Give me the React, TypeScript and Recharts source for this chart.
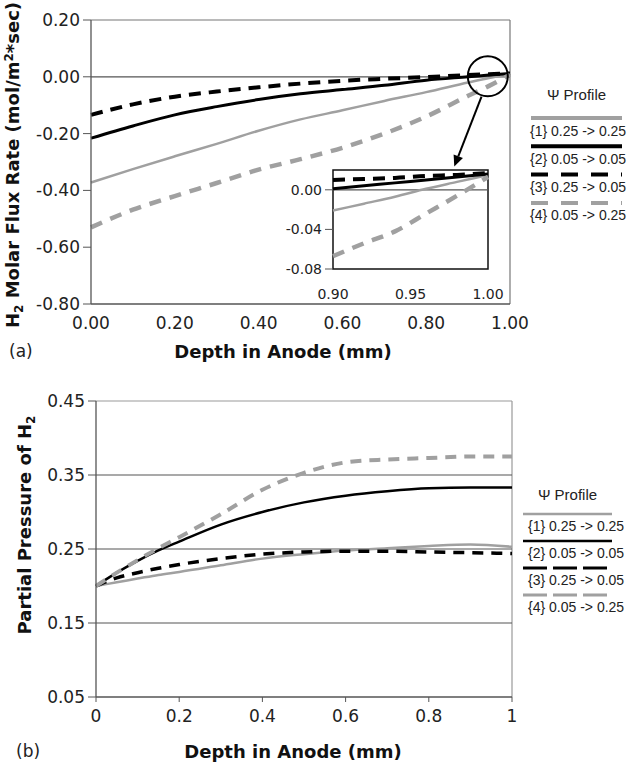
import React from 'react';
import { LineChart, Line, XAxis, YAxis, ReferenceLine, ReferenceDot, ReferenceArea, Legend } from 'recharts';

// ---- data ----
// (a) H2 molar flux rate vs depth
const depthFlux = [0, 0.1, 0.2, 0.3, 0.4, 0.5, 0.6, 0.7, 0.8, 0.9, 0.95, 1.0];
const flux1 = [-0.372, -0.325, -0.28, -0.236, -0.19, -0.15, -0.118, -0.085, -0.054, -0.02, -0.004, 0.01];
const flux2 = [-0.216, -0.173, -0.134, -0.105, -0.08, -0.06, -0.045, -0.03, -0.012, 0.0, 0.006, 0.012];
const flux3 = [-0.134, -0.097, -0.07, -0.052, -0.037, -0.024, -0.014, -0.007, -0.001, 0.006, 0.009, 0.012];
const flux4 = [-0.53, -0.468, -0.42, -0.374, -0.327, -0.29, -0.25, -0.2, -0.14, -0.067, -0.032, 0.008];

// inset: zoom on 0.90 - 1.00
const depthInset = [0.9, 0.92, 0.94, 0.96, 0.98, 1.0];
const inset1 = [-0.021, -0.014, -0.007, 0.001, 0.008, 0.015];
const inset2 = [0.001, 0.004, 0.007, 0.01, 0.013, 0.016];
const inset3 = [0.01, 0.011, 0.012, 0.014, 0.015, 0.017];
const inset4 = [-0.067, -0.054, -0.042, -0.024, -0.006, 0.013];

// (b) partial pressure of H2 vs depth
const depthPressure = [0, 0.05, 0.1, 0.15, 0.2, 0.3, 0.4, 0.5, 0.6, 0.7, 0.8, 0.9, 1.0];
const pressure1 = [0.2, 0.205, 0.21, 0.215, 0.219, 0.228, 0.237, 0.243, 0.248, 0.251, 0.254, 0.256, 0.253];
const pressure2 = [0.2, 0.218, 0.234, 0.248, 0.26, 0.283, 0.3, 0.313, 0.322, 0.328, 0.332, 0.333, 0.333];
const pressure3 = [0.2, 0.211, 0.218, 0.224, 0.229, 0.237, 0.243, 0.246, 0.247, 0.247, 0.246, 0.245, 0.244];
const pressure4 = [0.2, 0.218, 0.235, 0.251, 0.266, 0.297, 0.33, 0.353, 0.367, 0.371, 0.373, 0.375, 0.375];

const profileNames = ['{1} 0.25 -> 0.25', '{2} 0.05 -> 0.05', '{3} 0.25 -> 0.05', '{4} 0.05 -> 0.25'];

const fluxTicksX = [0, 0.2, 0.4, 0.6, 0.8, 1.0];
const fluxTicksY = [-0.8, -0.6, -0.4, -0.2, 0, 0.2];
const insetTicksX = [0.9, 0.95, 1.0];
const insetTicksY = [-0.08, -0.04, 0];
const pressureTicksX = [0, 0.2, 0.4, 0.6, 0.8, 1];
const pressureTicksY = [0.05, 0.15, 0.25, 0.35, 0.45];
const pressureGrid = [0.15, 0.25, 0.35];

// ---- build rows ----
const toRows = (xs: number[], a: number[], b: number[], c: number[], d: number[]) =>
  xs.map((x, i) => ({ depth: x, p1: a[i], p2: b[i], p3: c[i], p4: d[i] }));

const fluxData = toRows(depthFlux, flux1, flux2, flux3, flux4);
const insetData = toRows(depthInset, inset1, inset2, inset3, inset4);
const pressureData = toRows(depthPressure, pressure1, pressure2, pressure3, pressure4);

const GRAY = '#a0a0a0';
const AXIS = '#555';
const CHART_FONT = '"DejaVu Sans", sans-serif';
const LEGEND_FONT = '"Liberation Sans", Arial, sans-serif';

const keys = ['p1', 'p2', 'p3', 'p4'];
const colors = [GRAY, '#000', '#000', GRAY];
const topWidths = [2.5, 3, 4, 4.5];
const topDash = [undefined, undefined, '12 8', '12 9'];
const botWidths = [2.5, 2.5, 3.5, 4];
const botDash = [undefined, undefined, '11 8', '11 8'];

const tickStyle = { fill: '#222', fontSize: 17, fontFamily: CHART_FONT };
const titleStyle = { fill: '#111', fontSize: 18, fontWeight: 700, fontFamily: CHART_FONT };

// legend: line above each label
function ProfileLegend({ lineX1, lineX2, textX, titleY, firstLine, step, gap, widths, dash }: any) {
  return (
    <svg width={118} height={140} style={{ display: 'block', overflow: 'visible' }}>
      <text x={(lineX1 + lineX2) / 2} y={titleY} textAnchor="middle" fontSize={15} fontFamily={LEGEND_FONT} fill="#222">
        Ψ Profile
      </text>
      {profileNames.map((name, i) => {
        const ly = firstLine + i * step;
        return (
          <g key={name}>
            <line x1={lineX1} x2={lineX2} y1={ly} y2={ly} stroke={colors[i]} strokeWidth={widths[i]} strokeDasharray={dash[i]} />
            <text x={textX} y={ly + gap} fontSize={14} fontFamily={LEGEND_FONT} fill="#222">
              {name}
            </text>
          </g>
        );
      })}
    </svg>
  );
}

const Arrow = (props: any) => {
  const { x1, y1, x2, y2 } = props;
  const a = Math.atan2(y2 - y1, x2 - x1);
  const L = 11;
  const W = 5;
  const bx = x2 - L * Math.cos(a);
  const by = y2 - L * Math.sin(a);
  const pts = `${x2},${y2} ${bx + W * Math.sin(a)},${by - W * Math.cos(a)} ${bx - W * Math.sin(a)},${by + W * Math.cos(a)}`;
  return (
    <g>
      <line x1={x1} y1={y1} x2={bx} y2={by} stroke="#000" strokeWidth={2} />
      <polygon points={pts} fill="#000" />
    </g>
  );
};

function FluxChart() {
  return (
    <LineChart width={639} height={370} data={fluxData} margin={{ top: 20, right: 129, bottom: 40, left: 0 }}>
      <ReferenceLine y={0.2} stroke="#777" strokeWidth={1.2} />
      <ReferenceLine x={1} stroke="#777" strokeWidth={1.2} />
      <ReferenceLine y={0} stroke={AXIS} strokeWidth={1.3} />
      <XAxis
        dataKey="depth"
        type="number"
        domain={[0, 1]}
        ticks={fluxTicksX}
        tickFormatter={(v: number) => v.toFixed(2)}
        height={26}
        tickLine={false}
        tickSize={5}
        tickMargin={8}
        axisLine={{ stroke: AXIS, strokeWidth: 1.3 }}
        tick={tickStyle}
        label={{
          content: () => (
            <g>
              <text x={283} y={358} textAnchor="middle" {...titleStyle}>Depth in Anode (mm)</text>
              <text x={9} y={357} fontSize={17} fontFamily={CHART_FONT} fill="#222">(a)</text>
            </g>
          ),
        }}
      />
      <YAxis
        type="number"
        domain={[-0.8, 0.2]}
        ticks={fluxTicksY}
        tickFormatter={(v: number) => v.toFixed(2)}
        width={91}
        tickSize={8}
        tickMargin={3}
        axisLine={{ stroke: AXIS, strokeWidth: 1.3 }}
        tickLine={{ stroke: AXIS }}
        tick={tickStyle}
        label={{
          content: () => (
            <text transform="rotate(-90 19 165)" x={19} y={165} textAnchor="middle" {...titleStyle}>
              H<tspan dy={4} fontSize={12}>2</tspan>
              <tspan dy={-4}> Molar Flux Rate (mol/m</tspan>
              <tspan dy={-6} fontSize={12}>2</tspan>
              <tspan dy={6}>*sec)</tspan>
            </text>
          ),
        }}
      />
      {keys.map((k, i) => (
        <Line
          key={k}
          dataKey={k}
          name={profileNames[i]}
          type="monotone"
          stroke={colors[i]}
          strokeWidth={topWidths[i]}
          strokeDasharray={topDash[i]}
          dot={false}
          isAnimationActive={false}
        />
      ))}
      <ReferenceDot x={0.947} y={0.002} r={20} fill="none" stroke="#000" strokeWidth={2} />
      <ReferenceLine segment={[{ x: 0.932, y: -0.07 }, { x: 0.867, y: -0.316 }]} shape={Arrow} />
      <Legend
        layout="vertical"
        align="center"
        verticalAlign="middle"
        wrapperStyle={{ left: 523, top: 83, width: 118 }}
        content={() => (
          <ProfileLegend lineX1={8} lineX2={99} textX={7} titleY={17} firstLine={35} step={28.3} gap={17.5} widths={[4, 4, 4, 4]} dash={[undefined, undefined, '17 13', '17 13']} />
        )}
      />
    </LineChart>
  );
}

function InsetChart() {
  return (
    <LineChart width={240} height={145} data={insetData} margin={{ top: 10, right: 32, bottom: 6, left: 0 }}>
      <ReferenceArea x1={0.9} x2={1.0} y1={-0.08} y2={0.02} fill="#fff" fillOpacity={1} stroke="#111" strokeWidth={1.5} />
      <ReferenceLine y={0} stroke={AXIS} strokeWidth={1.2} />
      <XAxis
        dataKey="depth"
        type="number"
        domain={[0.9, 1.0]}
        ticks={insetTicksX}
        tickFormatter={(v: number) => v.toFixed(2)}
        height={30}
        tickLine={false}
        axisLine={false}
        tickSize={0}
        tickMargin={20}
        tick={{ ...tickStyle, fontSize: 14 }}
      />
      <YAxis
        type="number"
        domain={[-0.08, 0.02]}
        ticks={insetTicksY}
        tickFormatter={(v: number) => v.toFixed(2)}
        width={53}
        axisLine={false}
        tickSize={8}
        tickMargin={3}
        tickLine={{ stroke: AXIS }}
        tick={{ ...tickStyle, fontSize: 14 }}
      />
      {keys.map((k, i) => (
        <Line
          key={k}
          dataKey={k}
          type="monotone"
          stroke={colors[i]}
          strokeWidth={topWidths[i]}
          strokeDasharray={topDash[i]}
          dot={false}
          isAnimationActive={false}
        />
      ))}
    </LineChart>
  );
}

function PressureChart() {
  return (
    <LineChart width={639} height={395} data={pressureData} margin={{ top: 31, right: 127, bottom: 38, left: 0 }}>
      <ReferenceLine y={0.45} stroke="#999" strokeWidth={1.2} />
      <ReferenceLine x={1} stroke="#999" strokeWidth={1.2} />
      {pressureGrid.map((g) => (
        <ReferenceLine key={g} y={g} stroke={AXIS} strokeWidth={1.2} />
      ))}
      <XAxis
        dataKey="depth"
        type="number"
        domain={[0, 1]}
        ticks={pressureTicksX}
        tickFormatter={(v: number) => String(v)}
        height={30}
        tickSize={5}
        tickMargin={8}
        axisLine={{ stroke: AXIS, strokeWidth: 1.3 }}
        tickLine={{ stroke: AXIS }}
        tick={tickStyle}
        label={{
          content: () => (
            <g>
              <text x={293} y={388} textAnchor="middle" {...titleStyle}>Depth in Anode (mm)</text>
              <text x={16} y={387} fontSize={17} fontFamily={CHART_FONT} fill="#222">(b)</text>
            </g>
          ),
        }}
      />
      <YAxis
        type="number"
        domain={[0.05, 0.45]}
        ticks={pressureTicksY}
        tickFormatter={(v: number) => v.toFixed(2)}
        width={96}
        tickSize={8}
        tickMargin={3}
        axisLine={{ stroke: AXIS, strokeWidth: 1.3 }}
        tickLine={{ stroke: AXIS }}
        tick={tickStyle}
        label={{
          content: () => (
            <text transform="rotate(-90 31 155)" x={31} y={155} textAnchor="middle" {...titleStyle}>
              Partial Pressure of H<tspan dy={4} fontSize={12}>2</tspan>
            </text>
          ),
        }}
      />
      {keys.map((k, i) => (
        <Line
          key={k}
          dataKey={k}
          name={profileNames[i]}
          type="monotone"
          stroke={colors[i]}
          strokeWidth={botWidths[i]}
          strokeDasharray={botDash[i]}
          dot={false}
          isAnimationActive={false}
        />
      ))}
      <Legend
        layout="vertical"
        align="center"
        verticalAlign="middle"
        wrapperStyle={{ left: 518, top: 110, width: 121 }}
        content={() => (
          <ProfileLegend lineX1={5} lineX2={94} textX={10} titleY={20} firstLine={34} step={27} gap={17} widths={[2.5, 2.5, 3, 3]} dash={[undefined, undefined, '24 6', '24 6']} />
        )}
      />
    </LineChart>
  );
}

export default function App() {
  return (
    <div style={{ position: 'absolute', left: 0, top: 0, width: 639, height: 765, background: '#fff' }}>
      <div style={{ position: 'absolute', left: 0, top: 0 }}>
        <FluxChart />
      </div>
      <div style={{ position: 'absolute', left: 280, top: 160 }}>
        <InsetChart />
      </div>
      <div style={{ position: 'absolute', left: 0, top: 370 }}>
        <PressureChart />
      </div>
    </div>
  );
}
